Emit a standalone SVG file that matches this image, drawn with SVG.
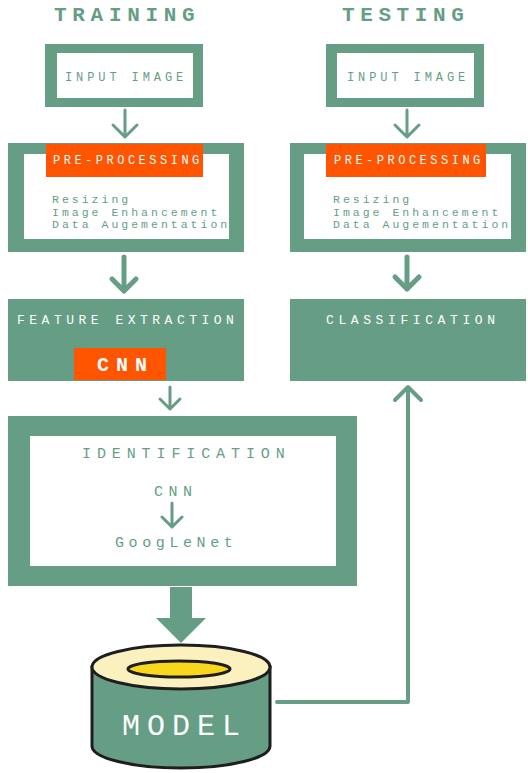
<svg xmlns="http://www.w3.org/2000/svg" width="528" height="773" viewBox="0 0 528 773">
<style>
.g{fill:#669E85}
.w{fill:#FFFFFF}
.o{fill:#FF5500}
.t{font-family:"Liberation Mono","Courier New",monospace;}
.gt{fill:#669E85}
.wt{fill:#FFFFFF}
.ln{stroke:#669E85;fill:none;stroke-linecap:round;stroke-linejoin:round}
</style>
<rect width="528" height="773" fill="#FFFFFF"/>
<g id="titles">
<text class="t gt" x="54" y="21" font-size="21" font-weight="bold" letter-spacing="5.7">TRAINING</text>
<text class="t gt" x="342" y="21" font-size="21" font-weight="bold" letter-spacing="5.6">TESTING</text>
</g>
<g id="train-input">
<rect class="g" x="45" y="44" width="158" height="63"/>
<rect class="w" x="57" y="53" width="136" height="45"/>
<text class="t gt" x="65" y="81" font-size="12" letter-spacing="3.9">INPUT IMAGE</text>
</g>
<g id="test-input">
<rect class="g" x="326" y="44" width="158" height="63"/>
<rect class="w" x="337" y="53" width="137" height="45"/>
<text class="t gt" x="347" y="81" font-size="12" letter-spacing="3.9">INPUT IMAGE</text>
</g>
<g id="train-preprocessing">
<rect class="g" x="8" y="143" width="236" height="109"/>
<rect class="w" x="24" y="154" width="205" height="85"/>
<rect class="o" x="46" y="144" width="157" height="33"/>
<text class="t wt" x="53" y="164" font-size="12" letter-spacing="3.5">PRE-PROCESSING</text>
<text class="t gt" font-size="11.5" letter-spacing="3">
<tspan x="52" y="203">Resizing</tspan><tspan x="52" y="215.5">Image Enhancement</tspan><tspan x="52" y="228">Data Augementation</tspan></text>
</g>
<g id="test-preprocessing">
<rect class="g" x="290" y="143" width="236" height="109"/>
<rect class="w" x="304" y="154" width="207" height="85"/>
<rect class="o" x="326" y="144" width="160" height="33"/>
<text class="t wt" x="334" y="164" font-size="12" letter-spacing="3.5">PRE-PROCESSING</text>
<text class="t gt" font-size="11.5" letter-spacing="3">
<tspan x="333" y="203">Resizing</tspan><tspan x="333" y="215.5">Image Enhancement</tspan><tspan x="333" y="228">Data Augementation</tspan></text>
</g>
<g id="feature-extraction">
<rect class="g" x="8" y="299" width="236" height="82"/>
<text class="t wt" x="17" y="324" font-size="13" letter-spacing="4.5">FEATURE EXTRACTION</text>
<rect class="o" x="74" y="348" width="92" height="32"/>
<text class="t wt" x="97" y="371" font-size="20" font-weight="bold" letter-spacing="7">CNN</text>
</g>
<g id="classification">
<rect class="g" x="290" y="299" width="236" height="82"/>
<text class="t wt" x="326" y="324" font-size="13" letter-spacing="4.6">CLASSIFICATION</text>
</g>
<g id="identification">
<rect class="g" x="8" y="416" width="349" height="170"/>
<rect class="w" x="30" y="436" width="306" height="130"/>
<text class="t gt" x="82" y="458" font-size="15" letter-spacing="5.9">IDENTIFICATION</text>
<text class="t gt" x="154" y="496" font-size="15" letter-spacing="5.5">CNN</text>
<text class="t gt" x="115" y="547" font-size="15" letter-spacing="4.6">GoogLeNet</text>
<path class="ln" stroke-width="3" d="M172,503 V527 M162,517 L172,527 L182,517"/>
</g>
<g id="model">
<path d="M92,667 V746 A89,22 0 0 0 270,746 V667 Z" fill="#669E85" stroke="#1E1E1E" stroke-width="3"/>
<ellipse cx="181" cy="667" rx="89" ry="22" fill="#FBF1BE" stroke="#1E1E1E" stroke-width="3"/>
<ellipse cx="179" cy="669" rx="51" ry="8" fill="#F9D71C" stroke="#1E1E1E" stroke-width="3"/>
<text class="t wt" x="122" y="735" font-size="30" letter-spacing="7">MODEL</text>
</g>
<g id="connectors">
<path class="ln" stroke-width="3" d="M125,110 V137 M113,125 L125,137 L137,125"/>
<path class="ln" stroke-width="3" d="M407,110 V137 M395,125 L407,137 L419,125"/>
<path class="ln" stroke-width="5" d="M124,257 V291 M112,279 L124,291 L136,279"/>
<path class="ln" stroke-width="5" d="M407,257 V289 M395,277 L407,289 L419,277"/>
<path class="ln" stroke-width="3" d="M170,387 V409 M160,399 L170,409 L180,399"/>
<polygon class="g" points="170,587 192,587 192,618 206,618 181,643 156,618 170,618"/>
<path class="ln" stroke-width="4" stroke-linecap="butt" d="M277,702 H408 V388"/>
<path class="ln" stroke-width="4" d="M395,400 L408,387 L421,400"/>
</g>
</svg>
